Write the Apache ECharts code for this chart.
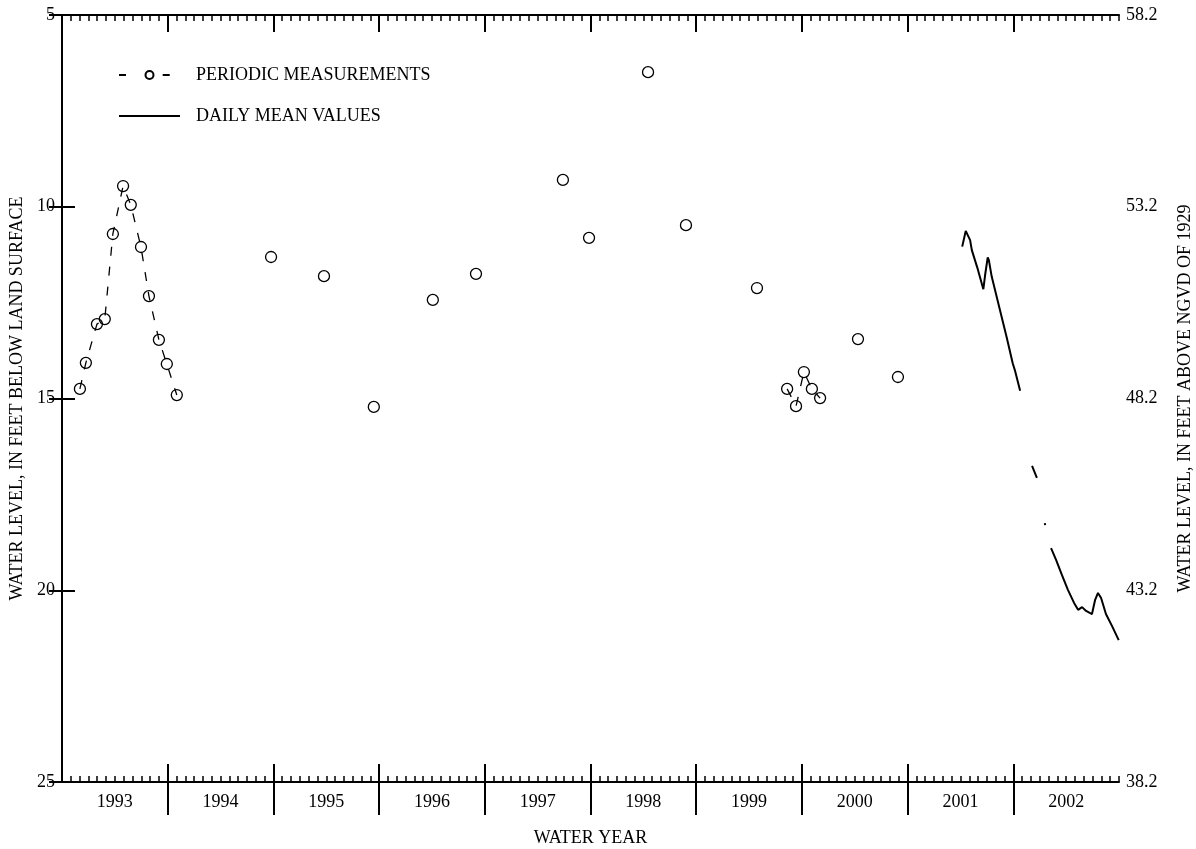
<!DOCTYPE html>
<html>
<head>
<meta charset="utf-8">
<script src="https://cdn.jsdelivr.net/npm/echarts@6/dist/echarts.min.js"></script>
<style>
  html, body { margin: 0; padding: 0; background: #fff; }
  #chart { width: 1196px; height: 849px; }
</style>
</head>
<body>
<div id="chart"></div>
<script>
// ---- Data ----
const waterYears = ['1993','1994','1995','1996','1997','1998','1999','2000','2001','2002'];
const leftTickValues = [5, 10, 15, 20, 25];
const rightTickLabels = ['58.2', '53.2', '48.2', '43.2', '38.2'];

// Periodic measurements (null = break in the connecting dashed line)
const periodicDates = [
  '1992-12-02','1992-12-23','1993-01-31','1993-02-25','1993-03-25','1993-04-29',
  '1993-05-26','1993-06-30','1993-07-28','1993-09-01','1993-09-28','1993-11-02',
  null,'1994-09-23', null,'1995-03-24', null,'1995-09-13', null,'1996-04-04',
  null,'1996-09-01', null,'1997-06-27', null,'1997-09-26', null,'1998-04-17',
  null,'1998-08-27', null,'1999-04-28', null,
  '1999-08-11','1999-09-11','1999-10-08','1999-11-05','1999-12-03',
  null,'2000-04-12', null,'2000-08-29'
];
const periodicLevels = [
  14.75, 14.07, 13.06, 12.93, 10.71, 9.46,
  9.95, 11.05, 12.33, 13.47, 14.10, 14.91,
  null, 11.31, null, 11.81, null, 15.22, null, 12.43,
  null, 11.75, null, 9.30, null, 10.81, null, 6.49,
  null, 10.48, null, 12.12, null,
  14.75, 15.20, 14.31, 14.75, 14.99,
  null, 13.45, null, 14.44
];

// Daily mean values (null = missing record)
const dailyDates = [
  '2001-04-07','2001-04-19','2001-04-25','2001-05-04','2001-05-10','2001-05-29',
  '2001-06-19','2001-06-25','2001-07-04','2001-07-08','2001-07-18','2001-08-16',
  '2001-09-08','2001-09-29','2001-10-08','2001-10-25',
  null,'2001-12-05','2001-12-22',
  null,'2002-01-19','2002-01-20',
  null,'2002-02-09','2002-02-25','2002-03-17','2002-04-07','2002-04-28','2002-05-12',
  '2002-05-26','2002-06-09','2002-06-29','2002-07-10','2002-07-20','2002-07-31',
  '2002-08-17','2002-09-07','2002-09-30'
];
const dailyLevels = [
  11.04, 10.63, 10.68, 10.87, 11.13, 11.58,
  12.15, 11.78, 11.32, 11.39, 11.82, 12.69,
  13.39, 14.08, 14.30, 14.80,
  null, 16.76, 17.07,
  null, 18.25, 18.30,
  null, 18.90, 19.21, 19.60, 19.99, 20.33, 20.51,
  20.44, 20.54, 20.62, 20.25, 20.07, 20.20,
  20.62, 20.93, 21.30
];

// ---- Helpers: months since start of water year 1993 (1992-10-01) ----
function toMonths(d) {
  const p = d.split('-').map(Number);
  const dim = new Date(p[0], p[1], 0).getDate();
  return (p[0] - 1992) * 12 + (p[1] - 10) + (p[2] - 1) / dim;
}
function buildSeries(dates, levels) {
  const out = [];
  for (let i = 0; i < dates.length; i++) {
    if (dates[i] === null || levels[i] === null) {
      const prev = out.length ? out[out.length - 1][0] : 0;
      out.push([prev + 0.01, null]);
    } else {
      out.push([toMonths(dates[i]), levels[i]]);
    }
  }
  return out;
}

const totalMonths = waterYears.length * 12;
const yearBoundaries = waterYears.slice(1).map((_, i) => 12 * (i + 1));
const yearCenters = waterYears.map((_, i) => 12 * i + 6);

const FONT = 'Liberation Serif';
const BLACK = '#000';
const baseX = { type: 'value', min: 0, max: totalMonths, gridIndex: 0, splitLine: { show: false } };

const chart = echarts.init(document.getElementById('chart'), null, { renderer: 'canvas' });
chart.setOption({
  animation: false,
  backgroundColor: '#fff',
  textStyle: { fontFamily: FONT, color: BLACK },
  grid: { left: 62, right: 77, top: 15, bottom: 67, containLabel: false, outerBoundsMode: 'none' },
  legend: {
    orient: 'vertical',
    left: 118,
    top: 66,
    padding: 0,
    itemWidth: 61,
    itemHeight: 10,
    itemGap: 23,
    selectedMode: false,
    textStyle: { fontFamily: FONT, fontSize: 18, color: BLACK, padding: [0, 0, 0, 11] },
    data: [
      { name: 'PERIODIC MEASUREMENTS', lineStyle: { type: [7, 36.7], width: 2 } },
      { name: 'DAILY MEAN VALUES', lineStyle: { width: 2 },
        itemStyle: { color: 'rgba(0,0,0,0)', borderColor: 'rgba(0,0,0,0)', borderWidth: 0, opacity: 0 } }
    ]
  },
  xAxis: [
    Object.assign({}, baseX, {
      position: 'bottom', interval: 1,
      axisLine: { show: true, lineStyle: { color: BLACK, width: 2 } },
      axisTick: { show: true, inside: true, length: 6, lineStyle: { color: BLACK, width: 1.5 } },
      axisLabel: { show: false }
    }),
    Object.assign({}, baseX, {
      position: 'bottom',
      axisLine: { show: false },
      axisTick: { show: true, inside: true, length: 18, customValues: yearBoundaries, lineStyle: { color: BLACK, width: 2 } },
      axisLabel: { show: false }
    }),
    Object.assign({}, baseX, {
      position: 'bottom',
      axisLine: { show: false },
      axisTick: { show: true, inside: false, length: 33, customValues: yearBoundaries, lineStyle: { color: BLACK, width: 2 } },
      axisLabel: {
        show: true, margin: 11, customValues: yearCenters,
        fontFamily: FONT, fontSize: 18, color: BLACK,
        formatter: v => waterYears[Math.round((v - 6) / 12)]
      },
      name: 'WATER YEAR', nameLocation: 'middle', nameGap: 47,
      nameTextStyle: { fontFamily: FONT, fontSize: 18, color: BLACK }
    }),
    Object.assign({}, baseX, {
      position: 'top', interval: 1,
      axisLine: { show: true, lineStyle: { color: BLACK, width: 2 } },
      axisTick: { show: true, inside: true, length: 6, lineStyle: { color: BLACK, width: 1.5 } },
      axisLabel: { show: false }
    }),
    Object.assign({}, baseX, {
      position: 'top',
      axisLine: { show: false },
      axisTick: { show: true, inside: true, length: 17, customValues: yearBoundaries, lineStyle: { color: BLACK, width: 2 } },
      axisLabel: { show: false }
    })
  ],
  yAxis: [
    {
      type: 'value', position: 'left', inverse: true, min: 5, max: 25, interval: 5,
      splitLine: { show: false },
      axisLine: { show: true, lineStyle: { color: BLACK, width: 2 } },
      axisTick: { show: true, inside: true, length: 13, customValues: leftTickValues, lineStyle: { color: BLACK, width: 2 } },
      axisLabel: { margin: 7, fontFamily: FONT, fontSize: 18, color: BLACK, customValues: leftTickValues },
      name: 'WATER LEVEL, IN FEET BELOW LAND SURFACE', nameLocation: 'middle', nameGap: 35, nameRotate: 90,
      nameTextStyle: { fontFamily: FONT, fontSize: 18, color: BLACK }
    },
    {
      type: 'value', position: 'right', inverse: true, min: 5, max: 25, interval: 5,
      splitLine: { show: false },
      axisLine: { show: true, lineStyle: { color: BLACK, width: 2 } },
      axisTick: { show: true, inside: true, length: 13, customValues: leftTickValues, lineStyle: { color: BLACK, width: 2 } },
      axisLabel: {
        margin: 7, fontFamily: FONT, fontSize: 18, color: BLACK, customValues: leftTickValues,
        formatter: v => rightTickLabels[leftTickValues.indexOf(v)]
      },
      name: 'WATER LEVEL, IN FEET ABOVE NGVD OF 1929', nameLocation: 'middle', nameGap: 57, nameRotate: 90,
      nameTextStyle: { fontFamily: FONT, fontSize: 18, color: BLACK }
    }
  ],
  series: [
    {
      name: 'PERIODIC MEASUREMENTS',
      type: 'line',
      xAxisIndex: 0, yAxisIndex: 0,
      data: buildSeries(periodicDates, periodicLevels),
      connectNulls: false,
      symbol: 'circle', symbolSize: 11, showAllSymbol: true,
      itemStyle: { color: 'rgba(0,0,0,0)', borderColor: BLACK, borderWidth: 1.3 },
      lineStyle: { color: BLACK, width: 1.3, type: [9, 11] },
      emphasis: { disabled: true },
      z: 3
    },
    {
      name: 'DAILY MEAN VALUES',
      type: 'line',
      xAxisIndex: 0, yAxisIndex: 0,
      data: buildSeries(dailyDates, dailyLevels),
      connectNulls: false,
      symbol: 'none',
      itemStyle: { color: BLACK },
      lineStyle: { color: BLACK, width: 2 },
      emphasis: { disabled: true },
      z: 2
    }
  ]
});
</script>
</body>
</html>
